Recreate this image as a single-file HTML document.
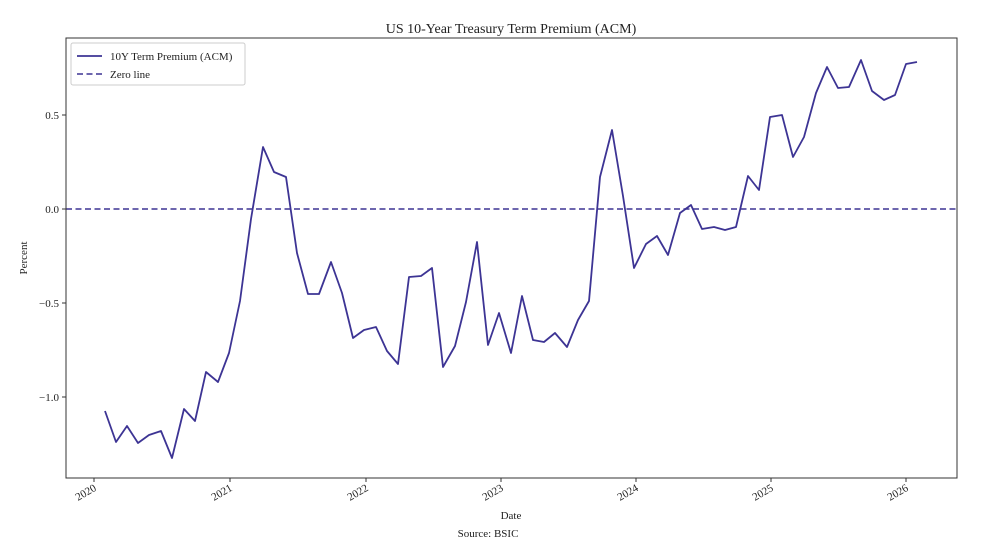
<!DOCTYPE html>
<html><head><style>
body{margin:0;background:#fff;}
svg text{font-family:"Liberation Serif",serif;fill:#222;}
</style></head><body>
<svg width="1000" height="548" xmlns="http://www.w3.org/2000/svg">
<rect width="1000" height="548" fill="#fff"/>
<text x="511" y="33" font-size="14" text-anchor="middle">US 10-Year Treasury Term Premium (ACM)</text>
<line x1="66" y1="209" x2="957" y2="209" stroke="#3d3494" stroke-width="1.6" stroke-dasharray="6,3.5"/>
<polyline fill="none" stroke="#3d3494" stroke-width="1.8" stroke-linejoin="round" points="105,411 116,442 127,426 138,443 149,435 161,431 172,458 184,409 195,421 206,372 218,382 229,353 240,301 251,219 263,147 274,172 286,177 297,253 308,294 319,294 331,262 342,293 353,338 364,330 376,327 387,351 398,364 409,277 421,276 432,268 443,367 455,346 466,302 477,242 488,345 499,313 511,353 522,296 533,340 544,342 555,333 567,347 578,320 589,301 600,177 612,130 623,196 634,268 646,244 657,236 668,255 680,213 691,205 702,229 714,227 725,230 736,227 748,176 759,190 770,117 782,115 793,157 804,137 816,93 827,67 838,88 849,87 861,60 872,91 884,100 895,95 906,64 917,62"/>
<rect x="66" y="38" width="891" height="440" fill="none" stroke="#333" stroke-width="1"/>
<g stroke="#333" stroke-width="1">
<line x1="62" y1="115" x2="66" y2="115"/><line x1="62" y1="209" x2="66" y2="209"/><line x1="62" y1="303" x2="66" y2="303"/><line x1="62" y1="397" x2="66" y2="397"/>
<line x1="94" y1="478" x2="94" y2="482"/><line x1="230" y1="478" x2="230" y2="482"/><line x1="366" y1="478" x2="366" y2="482"/><line x1="501" y1="478" x2="501" y2="482"/><line x1="636" y1="478" x2="636" y2="482"/><line x1="771" y1="478" x2="771" y2="482"/><line x1="906" y1="478" x2="906" y2="482"/>
</g>
<g font-size="11" text-anchor="end">
<text x="59" y="119">0.5</text><text x="59" y="213">0.0</text><text x="59" y="307">−0.5</text><text x="59" y="401">−1.0</text>
</g>
<g font-size="11" text-anchor="end">
<text transform="translate(97,490) rotate(-30)">2020</text>
<text transform="translate(233,490) rotate(-30)">2021</text>
<text transform="translate(369,490) rotate(-30)">2022</text>
<text transform="translate(504,490) rotate(-30)">2023</text>
<text transform="translate(639,490) rotate(-30)">2024</text>
<text transform="translate(774,490) rotate(-30)">2025</text>
<text transform="translate(909,490) rotate(-30)">2026</text>
</g>
<text x="511" y="519" font-size="11" text-anchor="middle">Date</text>
<text x="488" y="537" font-size="11" text-anchor="middle">Source: BSIC</text>
<text transform="translate(27,258) rotate(-90)" font-size="11" text-anchor="middle">Percent</text>
<rect x="71" y="43" width="174" height="42" rx="2" fill="#fff" stroke="#ccc"/>
<line x1="77" y1="56" x2="102" y2="56" stroke="#3d3494" stroke-width="1.8"/>
<line x1="77" y1="74" x2="102" y2="74" stroke="#3d3494" stroke-width="1.6" stroke-dasharray="6,3.5"/>
<text x="110" y="60" font-size="11">10Y Term Premium (ACM)</text>
<text x="110" y="78" font-size="11">Zero line</text>
</svg>
</body></html>
